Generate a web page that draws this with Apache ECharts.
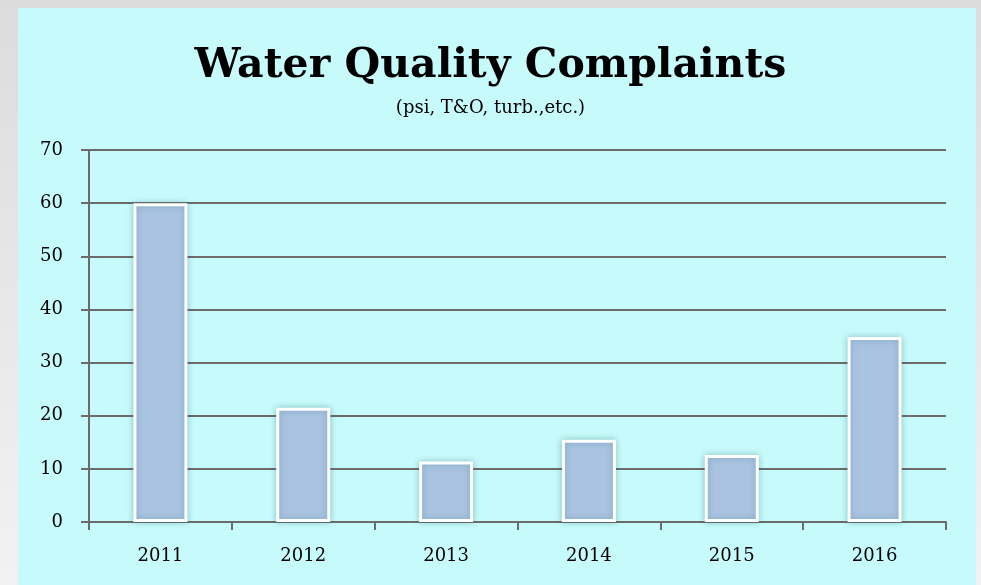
<!DOCTYPE html>
<html>
	<head>
		<meta charset="utf-8">
		<title>Water Quality Complaints</title>
		<script type="text/javascript" src="https://cdn.jsdelivr.net/npm/echarts@6/dist/echarts.min.js"></script>
		<style>
			html, body { margin: 0; padding: 0; }
		</style>
	</head>
	<body>
		<div id="chart" style="width:981px;height:585px;"></div>
		<script type="text/javascript">
			// 数据
			var years = ['2011', '2012', '2013', '2014', '2015', '2016'];
			var complaints = [60, 21.5, 11.4, 15.5, 12.6, 34.8];
			var yTicks = [0, 10, 20, 30, 40, 50, 60, 70];

			var axisColor = '#6b6b6b';
			var labelFont = 'DejaVu Serif';

			var myChart = echarts.init(document.getElementById('chart'));
			var option = {
				backgroundColor: {
					type: 'linear', x: 0, y: 0, x2: 0, y2: 1,
					colorStops: [{ offset: 0, color: '#dcdcdc' }, { offset: 1, color: '#f2f2f2' }]
				},
				graphic: [{
					// 青色面板
					type: 'rect',
					z: -10,
					shape: { x: 18, y: 8, width: 958, height: 577 },
					style: { fill: '#c7fafb' }
				}],
				title: {
					text: 'Water Quality Complaints',
					subtext: '(psi, T&O, turb.,etc.)',
					left: 'center',
					top: 41,
					itemGap: 12,
					textStyle: {
						fontFamily: labelFont,
						fontWeight: 'bold',
						fontSize: 41,
						color: '#000'
					},
					subtextStyle: {
						fontFamily: labelFont,
						fontSize: 18,
						color: '#000'
					}
				},
				grid: {
					left: 89,
					right: 35,
					top: 150,
					bottom: 63
				},
				xAxis: {
					type: 'category',
					data: years,
					axisLine: { lineStyle: { color: axisColor, width: 2 } },
					axisTick: { show: true, length: 8, lineStyle: { color: axisColor, width: 2 } },
					axisLabel: {
						margin: 25,
						fontFamily: labelFont,
						fontSize: 18,
						color: '#000'
					}
				},
				yAxis: {
					type: 'value',
					min: yTicks[0],
					max: yTicks[yTicks.length - 1],
					interval: 10,
					axisLine: { show: true, lineStyle: { color: axisColor, width: 2 } },
					axisTick: { show: true, length: 8, lineStyle: { color: axisColor, width: 2 } },
					splitLine: { lineStyle: { color: axisColor, width: 2 } },
					axisLabel: {
						margin: 26,
						fontFamily: labelFont,
						fontSize: 18,
						color: '#000'
					}
				},
				series: [{
					name: 'Complaints',
					type: 'bar',
					data: complaints,
					barWidth: 54,
					itemStyle: {
						color: '#a9c3e1',
						borderColor: '#ffffff',
						borderWidth: 3,
						shadowBlur: 6,
						shadowColor: 'rgba(40, 110, 110, 0.35)'
					}
				}]
			};
			myChart.setOption(option);
		</script>
	</body>
</html>
